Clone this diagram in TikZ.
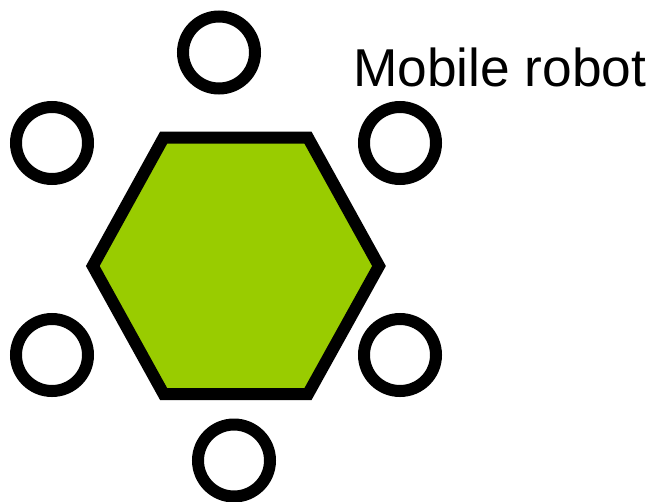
\documentclass[tikz,border=0pt]{standalone}
\usepackage{fontspec}
\setmainfont{Liberation Sans}
\definecolor{robotgreen}{HTML}{99CC00}
\tikzset{
	wheel/.style={draw=black, circle, line width=12pt, inner sep=0pt, minimum size=72pt},
	body/.style={draw=black, fill=robotgreen, line width=12pt}
}

\begin{document}
\begin{tikzpicture}[x=1pt,y=1pt]
		\useasboundingbox (0,0) rectangle (653,-501);
		% robot body
		\draw [body] (163.6,-137.7) -- (308,-137.7) -- (379,-266) -- (308,-394) -- (163.6,-394) -- (92.8,-266) -- cycle;
		% wheels
		\node [wheel] (wheeltop) at (219,-52.5) {};
		\node [wheel] (wheeltl) at (52,-143) {};
		\node [wheel] (wheeltr) at (400,-143) {};
		\node [wheel] (wheelbl) at (52,-355) {};
		\node [wheel] (wheelbr) at (400,-355) {};
		\node [wheel] (wheelbot) at (234,-460.5) {};
		\node [anchor=base west, inner sep=0pt, font=\fontsize{53.3pt}{60pt}\selectfont] (robotlabel) at (353,-86) {Mobile robot};
	\end{tikzpicture}
\end{document}
